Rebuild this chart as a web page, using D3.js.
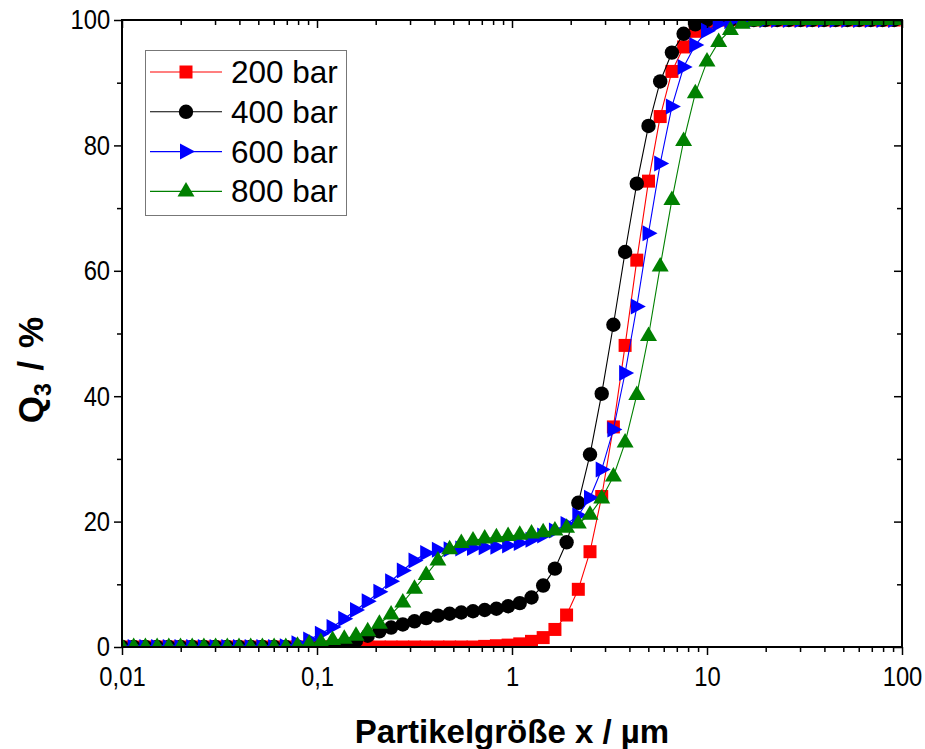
<!DOCTYPE html>
<html>
<head>
<meta charset="utf-8">
<script src="https://cdn.jsdelivr.net/npm/d3@7"></script>
<style>
  body { margin: 0; background: #fff; }
  svg { display: block; font-family: Arial, "Liberation Sans", sans-serif; }
</style>
</head>
<body>
<div id="chart"></div>
<script>
// particle size classes (µm)
const sizes = [
  0.01, 0.01148, 0.01318, 0.01514, 0.01738, 0.01995, 0.02291, 0.0263, 0.0302, 0.03467,
  0.03981, 0.04571, 0.05248, 0.06026, 0.06918, 0.07943, 0.0912, 0.1047, 0.1202, 0.138,
  0.1585, 0.182, 0.2089, 0.2399, 0.2754, 0.3162, 0.3631, 0.4169, 0.4786, 0.5495,
  0.631, 0.7244, 0.8318, 0.955, 1.096, 1.259, 1.445, 1.66, 1.905, 2.188,
  2.512, 2.884, 3.311, 3.802, 4.365, 5.012, 5.754, 6.607, 7.586, 8.71,
  10, 11.48, 13.18, 15.14, 17.38, 19.95, 22.91, 26.3, 30.2, 34.67,
  39.81, 45.71, 52.48, 60.26, 69.18, 79.43, 91.2
];

const q200 = [
  0, 0, 0, 0, 0, 0, 0, 0, 0, 0,
  0, 0, 0, 0, 0, 0, 0, 0, 0, 0,
  0, 0, 0, 0, 0, 0, 0, 0, 0, 0,
  0, 0.1, 0.2, 0.3, 0.5, 0.9, 1.5, 2.8, 5.1, 9.2,
  15.2, 24.0, 35.1, 48.1, 61.7, 74.3, 84.6, 91.8, 95.7, 98.2,
  99.5, 100, 100, 100, 100, 100, 100, 100, 100, 100,
  100, 100, 100, 100, 100, 100, 100
];

const q400 = [
  0, 0, 0, 0, 0, 0, 0, 0, 0, 0,
  0, 0, 0, 0, 0, 0, 0, 0.1, 0.2, 0.5,
  1.0, 1.8, 2.5, 3.1, 3.6, 4.1, 4.6, 5.0, 5.3, 5.5,
  5.7, 5.9, 6.1, 6.5, 7.0, 7.9, 9.8, 12.5, 16.7, 23.0,
  30.7, 40.4, 51.4, 63.0, 73.9, 83.1, 90.2, 94.8, 97.8, 99.3,
  100, 100, 100, 100, 100, 100, 100, 100, 100, 100,
  100, 100, 100, 100, 100, 100, 100
];

const q600 = [
  0, 0, 0, 0, 0, 0, 0, 0, 0, 0,
  0, 0, 0, 0, 0.1, 0.6, 1.2, 2.1, 3.2, 4.5,
  5.9, 7.3, 8.8, 10.5, 12.2, 13.8, 15.0, 15.5, 15.6, 15.7,
  15.8, 15.9, 16.0, 16.2, 16.6, 17.1, 17.8, 18.6, 19.6, 21.0,
  23.8, 28.3, 34.7, 43.7, 54.3, 66.0, 77.1, 86.2, 92.5, 96.0,
  98.3, 99.4, 99.8, 100, 100, 100, 100, 100, 100, 100,
  100, 100, 100, 100, 100, 100, 100
];

const q800 = [
  0, 0, 0, 0, 0, 0, 0, 0, 0, 0,
  0, 0, 0, 0, 0, 0.2, 0.5, 0.8, 1.1, 1.3,
  1.8, 2.5, 3.7, 5.2, 7.1, 9.3, 11.5, 13.8, 15.6, 16.6,
  17.0, 17.3, 17.5, 17.7, 17.9, 18.1, 18.3, 18.6, 19.0, 19.7,
  21.1, 23.7, 27.2, 32.6, 40.2, 49.6, 60.7, 71.3, 80.7, 88.3,
  93.4, 96.5, 98.4, 99.4, 99.8, 100, 100, 100, 100, 100,
  100, 100, 100, 100, 100, 100, 100
];

const seriesNames = ["200 bar", "400 bar", "600 bar", "800 bar"];
const seriesValues = [q200, q400, q600, q800];
const seriesColours = ["#ff0000", "#000000", "#0000ff", "#008000"];
const seriesSymbols = ["square", "circle", "right", "up"];

const xMajor = [0.01, 0.1, 1, 10, 100];
const yMajor = [0, 20, 40, 60, 80, 100];
const yMinor = [10, 30, 50, 70, 90];

const width = 925;
const height = 749;
const plotLeft = 122, plotRight = 902, plotTop = 20, plotBottom = 647;

const svg = d3
  .select("#chart")
  .append("svg")
  .attr("width", width)
  .attr("height", height);

const x = d3.scaleLog().domain([0.01, 100]).range([plotLeft, plotRight]);
const y = d3.scaleLinear().domain([0, 100]).range([plotBottom, plotTop]);

// minor log ticks 2..9 in every decade
const xMinor = [];
xMajor.slice(0, -1).forEach((d) => {
  for (let k = 2; k <= 9; k++) xMinor.push(d * k);
});

const fmtX = (d) => String(d).replace(".", ",");

svg
  .append("defs")
  .append("clipPath")
  .attr("id", "plotclip")
  .append("rect")
  .attr("x", plotLeft)
  .attr("y", plotTop)
  .attr("width", plotRight - plotLeft)
  .attr("height", plotBottom - plotTop);

// symbol paths
function symbolPath(type) {
  if (type === "square") return "M-6.5,-6.5H6.5V6.5H-6.5Z";
  if (type === "circle") return d3.symbol(d3.symbolCircle, Math.PI * 7.2 * 7.2)();
  if (type === "right") return "M-6,-8L9,0L-6,8Z";
  return "M0,-9.5L8.5,5L-8.5,5Z";
}

const plot = svg.append("g").attr("clip-path", "url(#plotclip)");

const line = d3
  .line()
  .x((d) => x(d[0]))
  .y((d) => y(d[1]));

seriesValues.forEach((vals, i) => {
  const pts = sizes.map((s, j) => [s, vals[j]]);
  const g = plot.append("g");
  g.append("path")
    .attr("d", line(pts))
    .attr("fill", "none")
    .attr("stroke", seriesColours[i])
    .attr("stroke-width", 1.1);
  g.selectAll("path.m")
    .data(pts)
    .enter()
    .append("path")
    .attr("class", "m")
    .attr("d", symbolPath(seriesSymbols[i]))
    .attr("transform", (d) => `translate(${x(d[0])},${y(d[1])})`)
    .attr("fill", seriesColours[i]);
});

// axes
function styleAxis(g) {
  g.select(".domain").remove();
  g.selectAll("line").attr("stroke", "#000").attr("stroke-width", 1.5);
  g.selectAll("text")
    .attr("font-size", 28)
    .attr("fill", "#000")
    .attr("transform", "scale(0.85,1)")
    .attr("font-family", "Arial, 'Liberation Sans', sans-serif");
}

svg.append("g")
  .attr("transform", `translate(0,${plotBottom})`)
  .call(d3.axisBottom(x).tickValues(xMajor).tickFormat(fmtX).tickSize(8).tickPadding(11))
  .call(styleAxis);
svg.append("g")
  .attr("transform", `translate(0,${plotBottom})`)
  .call(d3.axisBottom(x).tickValues(xMinor).tickFormat("").tickSize(5))
  .call(styleAxis);
svg.append("g")
  .attr("transform", `translate(0,${plotTop})`)
  .call(d3.axisTop(x).tickValues(xMajor).tickFormat("").tickSize(-8))
  .call(styleAxis);
svg.append("g")
  .attr("transform", `translate(0,${plotTop})`)
  .call(d3.axisTop(x).tickValues(xMinor).tickFormat("").tickSize(-5))
  .call(styleAxis);

svg.append("g")
  .attr("transform", `translate(${plotLeft},0)`)
  .call(d3.axisLeft(y).tickValues(yMajor).tickSize(8).tickPadding(6))
  .call(styleAxis);
svg.append("g")
  .attr("transform", `translate(${plotLeft},0)`)
  .call(d3.axisLeft(y).tickValues(yMinor).tickFormat("").tickSize(5))
  .call(styleAxis);
svg.append("g")
  .attr("transform", `translate(${plotRight},0)`)
  .call(d3.axisRight(y).tickValues(yMajor).tickFormat("").tickSize(-8))
  .call(styleAxis);
svg.append("g")
  .attr("transform", `translate(${plotRight},0)`)
  .call(d3.axisRight(y).tickValues(yMinor).tickFormat("").tickSize(-5))
  .call(styleAxis);

// frame
svg.append("rect")
  .attr("x", plotLeft)
  .attr("y", plotTop)
  .attr("width", plotRight - plotLeft)
  .attr("height", plotBottom - plotTop)
  .attr("fill", "none")
  .attr("stroke", "#000")
  .attr("stroke-width", 2);

// axis titles
svg.append("text")
  .attr("x", (plotLeft + plotRight) / 2)
  .attr("y", 743)
  .attr("text-anchor", "middle")
  .attr("font-size", 33)
  .attr("font-weight", "bold")
  .text("Partikelgröße x / µm");

const yt = svg.append("text")
  .attr("transform", `translate(43,370) rotate(-90)`)
  .attr("text-anchor", "middle")
  .attr("font-size", 35)
  .attr("font-weight", "bold")
  .attr("word-spacing", 3);
yt.append("tspan").text("Q");
yt.append("tspan").attr("font-size", 23).attr("dy", 8).text("3");
yt.append("tspan").attr("dy", -8).text(" / %");

// legend
const legend = svg.append("g");
legend.append("rect")
  .attr("x", 145.5)
  .attr("y", 50.5)
  .attr("width", 201)
  .attr("height", 165)
  .attr("fill", "#fff")
  .attr("stroke", "#777")
  .attr("stroke-width", 1);

seriesNames.forEach((name, i) => {
  const cy = 72 + i * 39.8;
  legend.append("line")
    .attr("x1", 150).attr("x2", 222)
    .attr("y1", cy).attr("y2", cy)
    .attr("stroke", seriesColours[i])
    .attr("stroke-width", 1.1);
  legend.append("path")
    .attr("d", symbolPath(seriesSymbols[i]))
    .attr("transform", `translate(186,${cy})`)
    .attr("fill", seriesColours[i]);
  legend.append("text")
    .attr("x", 231)
    .attr("y", cy + 11)
    .attr("font-size", 31.5)
    .text(name);
});
</script>
</body>
</html>
